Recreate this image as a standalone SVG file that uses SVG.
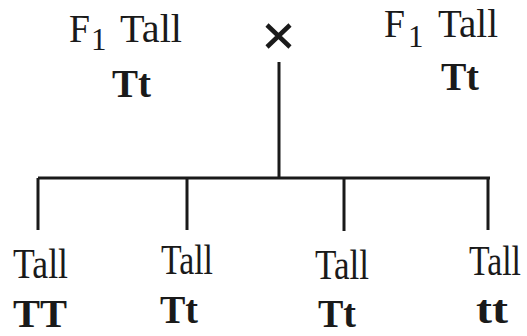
<svg xmlns="http://www.w3.org/2000/svg" width="527" height="336" viewBox="0 0 527 336">
<style>
.r{font-family:"Liberation Serif","Times New Roman",serif;font-size:42px;fill:#1a1a1a}
.t{font-family:"Liberation Serif","Times New Roman",serif;font-size:40px;fill:#1a1a1a}
.b{font-family:"Liberation Serif","Times New Roman",serif;font-size:39px;font-weight:bold;fill:#1a1a1a}
.s{font-family:"Liberation Serif","Times New Roman",serif;font-size:31px;fill:#1a1a1a}
.ln{stroke:#1a1a1a;stroke-width:3;fill:none}
</style>
<rect width="527" height="336" fill="#fff"/>
<g id="parent1">
<text class="t" x="69" y="42" textLength="21" lengthAdjust="spacingAndGlyphs">F</text>
<text class="s" x="91" y="50">1</text>
<text class="t" x="120" y="42" textLength="62" lengthAdjust="spacingAndGlyphs">Tall</text>
<text class="b" x="112" y="97" textLength="39" lengthAdjust="spacingAndGlyphs">Tt</text>
</g>
<g id="cross">
<path d="M267 25 L290 47 M290 25 L267 47" stroke="#1a1a1a" stroke-width="4.5" fill="none"/>
</g>
<g id="parent2">
<text class="t" x="384" y="37" textLength="21" lengthAdjust="spacingAndGlyphs">F</text>
<text class="s" x="408" y="47">1</text>
<text class="t" x="438" y="37" textLength="60" lengthAdjust="spacingAndGlyphs">Tall</text>
<text class="b" x="441" y="90" textLength="38" lengthAdjust="spacingAndGlyphs">Tt</text>
</g>
<g id="connectors">
<path class="ln" d="M279 62 V178 M38 178 H490 M38 178 V230 M187 178 V230 M344 178 V231 M488 178 V230"/>
</g>
<g id="child1">
<text class="r" x="13" y="278" textLength="55" lengthAdjust="spacingAndGlyphs">Tall</text>
<text class="b" x="13" y="327" textLength="54" lengthAdjust="spacingAndGlyphs">TT</text>
</g>
<g id="child2">
<text class="r" x="161" y="274" textLength="52" lengthAdjust="spacingAndGlyphs">Tall</text>
<text class="b" x="160" y="323" textLength="38" lengthAdjust="spacingAndGlyphs">Tt</text>
</g>
<g id="child3">
<text class="r" x="315" y="279" textLength="54" lengthAdjust="spacingAndGlyphs">Tall</text>
<text class="b" x="318" y="327" textLength="38" lengthAdjust="spacingAndGlyphs">Tt</text>
</g>
<g id="child4">
<text class="r" x="469" y="275" textLength="52" lengthAdjust="spacingAndGlyphs">Tall</text>
<text class="b" x="476" y="323" textLength="32" lengthAdjust="spacingAndGlyphs">tt</text>
</g>
</svg>
